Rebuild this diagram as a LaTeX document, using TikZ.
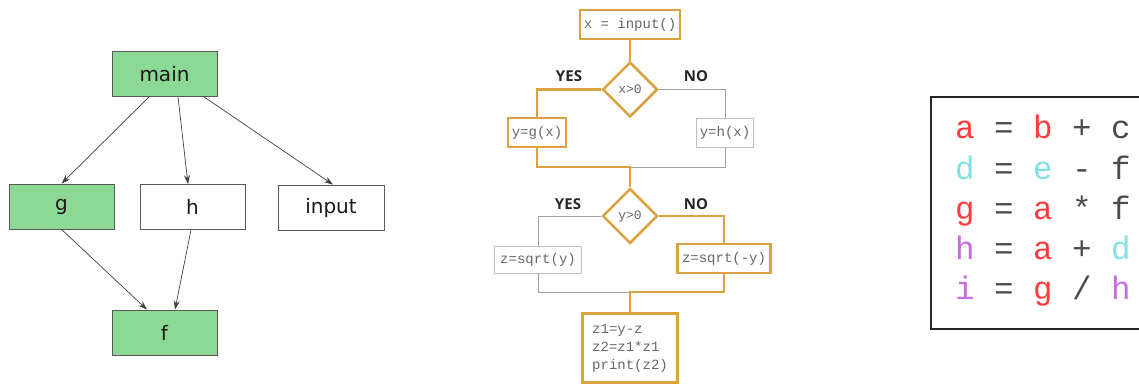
\documentclass[tikz,border=0pt]{standalone}
\usepackage{fontspec}
\usepackage{tikz}
\usetikzlibrary{shapes.geometric,arrows.meta}
\newfontfamily\graphfont{DejaVu Sans}
\newfontfamily\yesnofont{Open Sans}
\newfontfamily\codefont{Liberation Mono}
\definecolor{callgreen}{RGB}{140,217,150}
\definecolor{pathorange}{RGB}{222,161,66}
\definecolor{pathgray}{RGB}{160,160,160}
\definecolor{vred}{RGB}{255,60,60}
\definecolor{vcyan}{RGB}{130,225,225}
\definecolor{vpurple}{RGB}{200,110,220}
\definecolor{opgray}{RGB}{75,75,75}

\begin{document}
\begin{tikzpicture}[x=1pt,y=-1pt,
  fn/.style={draw=black!65, line width=0.8pt, minimum width=105pt, minimum height=45pt,
    inner sep=0pt, text=black!90, font=\graphfont\fontsize{20}{24}\selectfont},
  called/.style={fn, fill=callgreen},
  call/.style={draw=black!75, line width=0.7pt, -{Stealth[length=9pt,width=6pt]}},
  stmt/.style={rectangle, minimum height=29pt, inner sep=0pt, text=black!60,
    font=\codefont\fontsize{14}{18}\selectfont},
  taken/.style={stmt, draw=pathorange, line width=2.5pt},
  skipped/.style={stmt, draw=black!25, line width=0.8pt},
  test/.style={diamond, draw=pathorange, line width=2.5pt, minimum width=55pt,
    minimum height=55pt, inner sep=0pt, text=black!60, font=\codefont\fontsize{13}{16}\selectfont},
  branch/.style={font=\yesnofont\bfseries\fontsize{15}{18}\selectfont, text=black!85},
  hot/.style={draw=pathorange, line width=2.5pt},
  cold/.style={draw=pathgray, line width=1pt},
  row/.style={anchor=base west, inner sep=0pt, text=opgray,
    font=\codefont\fontsize{32.5}{39}\selectfont}]
\clip (0,0) rectangle (1139,385);

% call graph
\node[called] (main) at (164.5,74) {main};
\node[called] (g) at (61.5,206.5) {g};
\node[fn] (h) at (192.5,207) {h};
\node[fn, minimum width=106pt] (input) at (331,207.5) {input};
\node[called] (f) at (164.5,332.5) {f};

\draw[call] ([xshift=-15.5pt]main.south) -- (g.north);
\draw[call] ([xshift=13.5pt]main.south) -- ([xshift=-4.5pt]h.north);
\draw[call] ([xshift=39.5pt]main.south) -- ([xshift=2pt]input.north);
\draw[call] (g.south) -- ([xshift=-17.5pt]f.north);
\draw[call] ([xshift=-1.5pt]h.south) -- ([xshift=10.5pt]f.north);

% control flow
\node[taken, minimum width=100pt] (in) at (630,24.5) {x = input()};
\node[test] (x0) at (630,89.5) {x>0};
\node[branch] (yes1) at (569,76) {YES};
\node[branch] (no1) at (696,76) {NO};
\node[taken, minimum width=58pt] (gx) at (537,132.5) {y=g(x)};
\node[skipped, minimum width=57pt] (hx) at (725,132.5) {y=h(x)};
\coordinate (j1) at (630,167);

\node[test] (y0) at (630,216) {y>0};
\node[branch] (yes2) at (568,204) {YES};
\node[branch] (no2) at (696,204) {NO};
\node[skipped, minimum width=87pt, minimum height=27pt] (sy) at (538,259.5) {z=sqrt(y)};
\node[taken, minimum width=93pt] (sny) at (724,258.5) {z=sqrt(-y)};
\coordinate (j2) at (630,292);
\node[taken, minimum width=95pt, minimum height=69pt, align=left] (out) at (630,348)
  {z1=y-z\\z2=z1*z1\\print(z2)};

\draw[cold] (x0.east) -| (hx.north);
\draw[cold] (hx.south) |- (j1);
\draw[hot] (in) -- (x0);
\draw[hot] (x0.west) -| (gx.north);
\draw[hot] (gx.south) |- (j1) -- (y0.north);

\draw[cold] (y0.west) -| (sy.north);
\draw[cold] (sy.south) |- (j2);
\draw[hot] (y0.east) -| (sny.north);
\draw[hot] (sny.south) |- (j2) -- (out.north);

% variables
\draw[line width=2pt, draw=black!85] (931,97) rectangle (1160,329);
\node[row] (r1) at (955,139) {\textcolor{vred}{a} = \textcolor{vred}{b} + c};
\node[row] (r2) at (955,179) {\textcolor{vcyan}{d} = \textcolor{vcyan}{e} - f};
\node[row] (r3) at (955,219) {\textcolor{vred}{g} = \textcolor{vred}{a} * f};
\node[row] (r4) at (955,259) {\textcolor{vpurple}{h} = \textcolor{vred}{a} + \textcolor{vcyan}{d}};
\node[row] (r5) at (955,299) {\textcolor{vpurple}{i} = \textcolor{vred}{g} / \textcolor{vpurple}{h}};
\end{tikzpicture}
\end{document}
